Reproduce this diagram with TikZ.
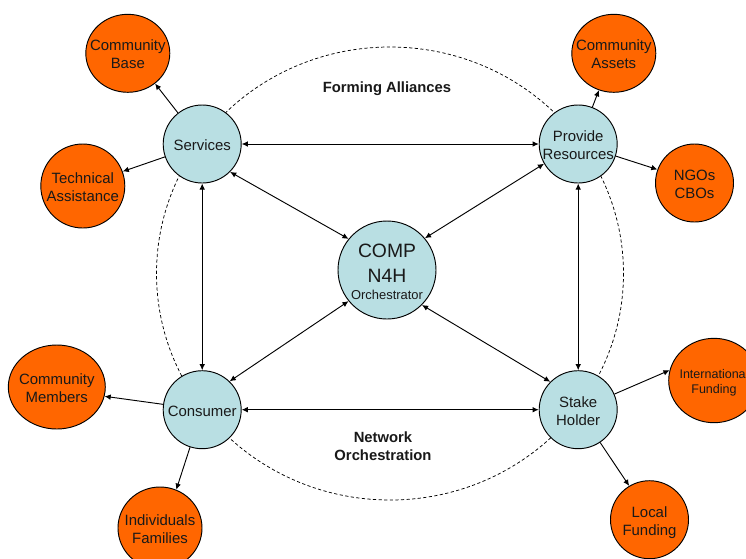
\documentclass[tikz,border=0pt]{standalone}
\usepackage{fontspec}
\setmainfont{Liberation Sans}
\usetikzlibrary{shapes.geometric,arrows.meta}
\definecolor{hubblue}{HTML}{B9DFE3}
\definecolor{leaforange}{HTML}{FF6600}
\newcommand\lb[2][-4.8pt]{\raisebox{#1}[0pt][0pt]{\begin{tabular}{@{}c@{}}#2\end{tabular}}}
\tikzset{
 x=0.75pt,y=-0.75pt,
 every node/.style={font=\fontsize{11.2}{13.5}\selectfont,align=center,text=black!90},
 hub/.style={ellipse,draw=black,line width=0.7pt,fill=hubblue,inner sep=-40pt,minimum width=78*0.75pt,minimum height=78*0.75pt},
 leaf/.style={ellipse,draw=black,line width=0.7pt,fill=leaforange,inner sep=-40pt},
 caption/.style={font=\fontsize{11.1}{13.5}\selectfont\bfseries},
 twoway/.style={{Latex[length=4.6pt,width=4.2pt]}-{Latex[length=4.6pt,width=4.2pt]},line width=0.7pt},
 oneway/.style={-{Latex[length=4.6pt,width=4.2pt]},line width=0.7pt}
}
\begin{document}
\begin{tikzpicture}
\useasboundingbox (0,0) rectangle (746,558);
\clip (0,0) rectangle (746,558);
\fill[white] (0,0) rectangle (746,558);
\draw[dash pattern=on 2.4pt off 1.8pt,line width=0.55pt] (390,273.5) ellipse [x radius=233.5,y radius=226.5];
\node[hub] (serv) at (202.2,144) {\lb{Services}};
\node[hub] (prov) at (578.2,144) {\lb{Provide\\Resources}};
\node[hub] (cons) at (202.2,409.7) {\lb{Consumer}};
\node[hub] (stake) at (578.2,409.7) {\lb{Stake\\Holder}};
\node[hub,minimum width=98*0.75pt,minimum height=98*0.75pt] (comp) at (387,270) {\fontsize{14.5}{18.75}\selectfont\lb[-6.3pt]{COMP\\N4H\\[-6.35pt]\fontsize{9.7}{11}\selectfont Orchestrator}};
\node[leaf,minimum width=84*0.75pt,minimum height=78*0.75pt] (base) at (127.8,53.3) {\lb{Community\\Base}};
\node[leaf,minimum width=84*0.75pt,minimum height=84*0.75pt] (tech) at (82.8,186) {\lb{Technical\\Assistance}};
\node[leaf,minimum width=84*0.75pt,minimum height=78*0.75pt] (assets) at (613.8,53.3) {\lb{Community\\Assets}};
\node[leaf,minimum width=78*0.75pt,minimum height=78*0.75pt] (ngo) at (694.5,183) {\lb{NGOs\\CBOs}};
\node[leaf,minimum width=97*0.75pt,minimum height=84*0.75pt] (memb) at (56.8,387) {\lb{Community\\Members}};
\node[leaf,minimum width=84*0.75pt,minimum height=82*0.75pt] (indiv) at (160,528) {\lb{Individuals\\Families}};
\node[leaf,minimum width=90.6*0.75pt,minimum height=84.4*0.75pt,font=\fontsize{9.4}{11}\selectfont] (intl) at (714,380.5) {\lb[-4pt]{International\\Funding}};
\node[leaf,minimum width=78*0.75pt,minimum height=78*0.75pt] (local) at (649.5,519.7) {\lb{Local\\Funding}};
\node[caption] (fa) at (387,88.5) {Forming Alliances};
\node[caption] (no) at (383,446) {Network\\Orchestration};
\draw[twoway] (serv) -- (prov);
\draw[twoway] (cons) -- (stake);
\draw[twoway] (serv) -- (cons);
\draw[twoway] (prov) -- (stake);
\draw[twoway] (serv.-45) -- (comp.141);
\draw[twoway] (prov.210) -- (comp.40.6);
\draw[twoway] (cons.46) -- (comp.219);
\draw[twoway] (stake.135) -- (comp.-45);
\draw[oneway] (serv) -- (base.-48.7);
\draw[oneway] (serv) -- (tech.20.4);
\draw[oneway] (prov) -- (assets.-112);
\draw[oneway] (prov) -- (ngo.160);
\draw[oneway] (cons) -- (memb.-11.5);
\draw[oneway] (cons) -- (indiv.67);
\draw[oneway] (stake) -- (intl.167);
\draw[oneway] (stake) -- (local.121);
\end{tikzpicture}
\end{document}
